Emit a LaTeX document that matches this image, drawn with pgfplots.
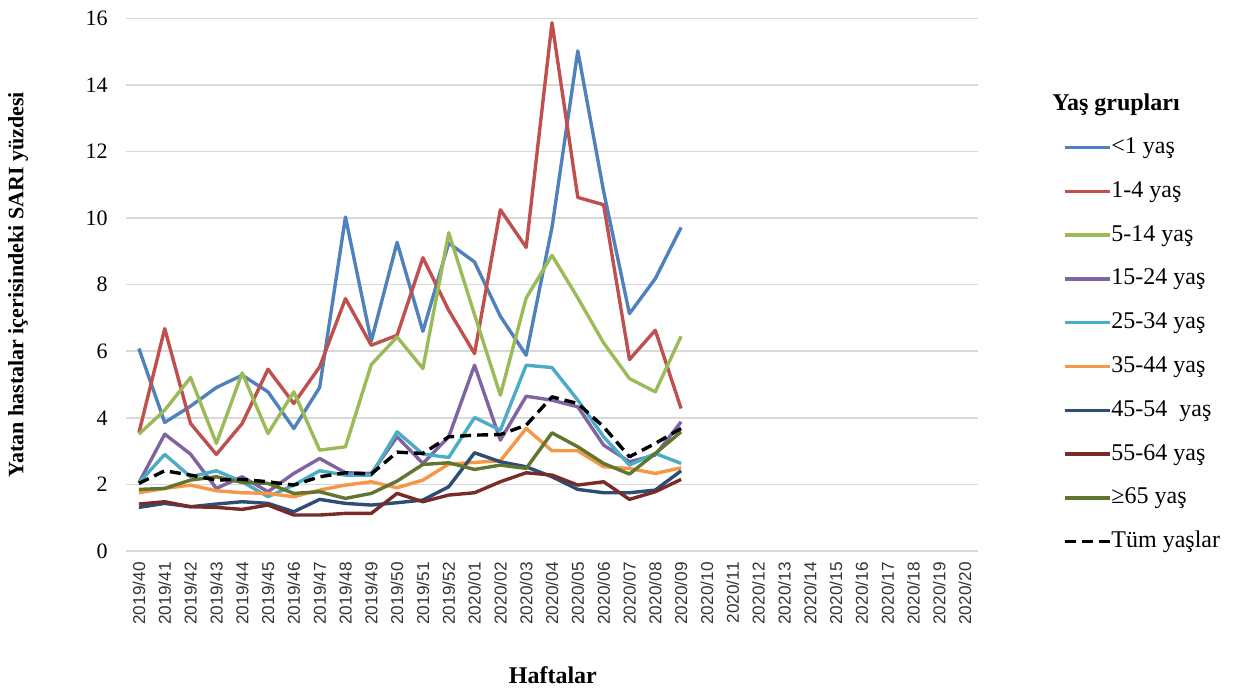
\documentclass[border=0pt]{standalone}
\usepackage{fontspec}
\setmainfont{Liberation Serif}
\newfontfamily\ticksans{Liberation Sans}
\usepackage{pgfplots}
\usepackage{pgfplotstable}
\pgfplotsset{compat=1.18}

\definecolor{cLtOne}{HTML}{4F81BD}
\definecolor{cOneFour}{HTML}{C0504D}
\definecolor{cFiveFourteen}{HTML}{9BBB59}
\definecolor{cFifteen}{HTML}{8064A2}
\definecolor{cTwentyFive}{HTML}{4BACC6}
\definecolor{cThirtyFive}{HTML}{F79646}
\definecolor{cFortyFive}{HTML}{2C4D75}
\definecolor{cFiftyFive}{HTML}{772C2A}
\definecolor{cSixtyFive}{HTML}{5F7530}
\definecolor{gridgray}{HTML}{D9D9D9}

% Weekly SARI share among hospitalised patients, by age group
\pgfplotstableread{
i  lt1    a1    a5    a15   a25   a35   a45   a55   a65   all
0  6.08   3.55  3.51  2.05  2.05  1.75  1.31  1.41  1.85  2.03
1  3.86   6.68  4.23  3.51  2.90  1.88  1.43  1.48  1.88  2.41
2  4.35   3.83  5.21  2.91  2.23  1.98  1.33  1.33  2.13  2.28
3  4.91   2.90  3.23  1.88  2.41  1.81  1.41  1.31  2.23  2.13
4  5.28   3.83  5.35  2.23  2.08  1.75  1.48  1.25  2.06  2.15
5  4.78   5.46  3.53  1.78  1.63  1.73  1.43  1.38  2.03  2.08
6  3.68   4.43  4.78  2.33  1.98  1.63  1.18  1.08  1.73  1.98
7  4.91   5.53  3.03  2.78  2.41  1.83  1.55  1.08  1.78  2.23
8  10.03  7.58  3.13  2.35  2.28  1.98  1.43  1.13  1.58  2.35
9  6.30   6.18  5.60  2.33  2.28  2.08  1.38  1.13  1.73  2.31
10 9.27   6.48  6.43  3.43  3.58  1.90  1.45  1.73  2.10  2.97
11 6.60   8.81  5.48  2.63  2.91  2.13  1.53  1.48  2.60  2.93
12 9.25   7.23  9.56  3.43  2.81  2.61  1.93  1.68  2.65  3.43
13 8.68   5.93  7.10  5.58  4.01  2.66  2.95  1.75  2.45  3.48
14 7.05   10.25 4.68  3.33  3.63  2.71  2.68  2.08  2.58  3.50
15 5.88   9.12  7.60  4.65  5.58  3.68  2.53  2.35  2.48  3.78
16 9.72   15.87 8.88  4.53  5.51  3.01  2.23  2.28  3.55  4.63
17 15.02  10.62 7.60  4.33  4.53  3.01  1.85  1.98  3.13  4.43
18 10.80  10.40 6.25  3.18  3.43  2.53  1.75  2.08  2.63  3.73
19 7.13   5.75  5.18  2.68  2.58  2.48  1.75  1.55  2.31  2.83
20 8.18   6.63  4.78  2.88  2.93  2.33  1.83  1.78  2.93  3.23
21 9.72   4.28  6.45  3.88  2.63  2.50  2.41  2.15  3.58  3.68
}\sari

\begin{document}
\begin{tikzpicture}[x=1pt,y=1pt]
\useasboundingbox (0,0) rectangle (619.5,346.5);
\begin{axis}[
  at={(63pt,71pt)}, anchor=south west,
  scale only axis, width=426pt, height=266.35pt,
  xmin=-0.5, xmax=32.5, ymin=0, ymax=16,
  xtick={0,...,32},
  xticklabels={2019/40,2019/41,2019/42,2019/43,2019/44,2019/45,2019/46,2019/47,2019/48,2019/49,2019/50,2019/51,2019/52,2020/01,2020/02,2020/03,2020/04,2020/05,2020/06,2020/07,2020/08,2020/09,2020/10,2020/11,2020/12,2020/13,2020/14,2020/15,2020/16,2020/17,2020/18,2020/19,2020/20},
  ytick={0,2,...,16},
  axis lines*=left,
  y axis line style={draw=none},
  x axis line style={draw=gridgray, line width=0.8pt},
  major tick length=0pt,
  ymajorgrids,
  grid style={draw=gridgray, line width=0.8pt},
  /pgf/number format/assume math mode=true,
  yticklabel style={font=\fontsize{11}{11}\selectfont, anchor=east, inner sep=0pt},
  yticklabel shift=9pt,
  xticklabel style={font=\ticksans\fontsize{8.6}{8.6}\selectfont, rotate=90, anchor=east, inner sep=0pt, text=black!80},
  xticklabel shift=5.5pt,
  xlabel={Haftalar},
  ylabel={Yatan hastalar içerisindeki SARI yüzdesi},
  every axis x label/.style={at={(axis description cs:0.501,-0.2328)}, anchor=center, font=\bfseries\fontsize{12}{12}\selectfont},
  every axis y label/.style={at={(axis description cs:-0.12676,0.5)}, rotate=90, anchor=center, font=\bfseries\fontsize{11}{11}\selectfont},
  legend cell align=left,
  legend image code/.code={\draw[#1] (0pt,0pt) -- (22.5pt,0pt);},
  legend style={at={(axis description cs:1.0998,0.780)}, anchor=north west,
    draw=none, fill=none, inner sep=0pt, outer sep=0pt, row sep=9.9pt,
    font=\fontsize{12}{12}\selectfont,
    nodes={inner sep=0pt, text height=9pt, text depth=3pt},
    /tikz/every even column/.append style={column sep=2pt}},
  every axis plot/.append style={line width=1.7pt, line join=round},
  clip=false,
]
\addplot[cLtOne] table[x=i, y=lt1] {\sari};
\addlegendentry{<1 yaş}
\addplot[cOneFour] table[x=i, y=a1] {\sari};
\addlegendentry{1-4 yaş}
\addplot[cFiveFourteen] table[x=i, y=a5] {\sari};
\addlegendentry{5-14 yaş}
\addplot[cFifteen] table[x=i, y=a15] {\sari};
\addlegendentry{15-24 yaş}
\addplot[cTwentyFive] table[x=i, y=a25] {\sari};
\addlegendentry{25-34 yaş}
\addplot[cThirtyFive] table[x=i, y=a35] {\sari};
\addlegendentry{35-44 yaş}
\addplot[cFortyFive] table[x=i, y=a45] {\sari};
\addlegendentry{45-54\ \ yaş}
\addplot[cFiftyFive] table[x=i, y=a55] {\sari};
\addlegendentry{55-64 yaş}
\addplot[cSixtyFive] table[x=i, y=a65] {\sari};
\addlegendentry{≥65 yaş}
\addplot[black, dash pattern=on 5.5pt off 3pt] table[x=i, y=all] {\sari};
\addlegendentry{Tüm yaşlar}
\end{axis}
\node[anchor=west, inner sep=0pt, font=\bfseries\fontsize{12}{12}\selectfont] at (526,294) {Yaş grupları};
\end{tikzpicture}
\end{document}
